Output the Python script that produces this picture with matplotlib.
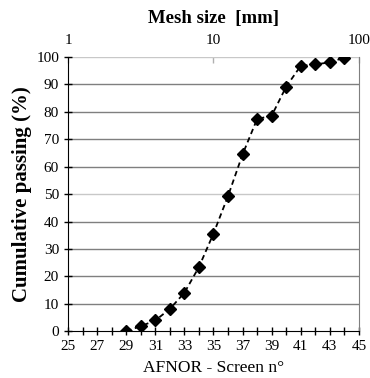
import matplotlib
matplotlib.use("Agg")
import matplotlib.pyplot as plt
import numpy as np

plt.rcParams['font.family'] = ['Liberation Serif', 'DejaVu Serif']

# AFNOR screen number and cumulative passing (%)
screen = [29, 30, 31, 32, 33, 34, 35, 36, 37, 38, 39, 40, 41, 42, 43, 44]
passing = [0, 1.8, 3.9, 8.1, 14, 23.4, 35.6, 49.3, 64.5, 77.4, 78.6, 89.2, 96.8, 97.3, 98.1, 99.8]

x_ticks = list(range(25, 46, 2))
y_ticks = list(range(0, 101, 10))
mesh_ticks = [1, 10, 100]

fig = plt.figure(figsize=(3.7, 3.78), dpi=100)
ax = fig.add_axes([0.184, 0.124, 0.786, 0.725])

# horizontal grid lines
for y in y_ticks[1:]:
    col = '#c8c8c8' if y in (50, 100) else '#7f7f7f'
    ax.axhline(y, color=col, lw=1.0, zorder=1)

ax.plot(screen, passing, color='black', ls='--', lw=1.3, dashes=(3, 2),
        marker='D', markersize=6, zorder=3)

ax.set_xlim(25, 45)
ax.set_ylim(0, 100)
ax.set_xticks(x_ticks)
ax.set_xticks(range(25, 46), minor=True)
ax.set_yticks(y_ticks)
ax.tick_params(axis='both', direction='inout', length=6, width=1, labelsize=11)
ax.tick_params(axis='x', which='minor', direction='inout', length=6, width=1)
ax.spines['top'].set_visible(False)
ax.spines['right'].set_color('#7f7f7f')

ax.set_xlabel('AFNOR - Screen n°', fontsize=12.5, labelpad=5)
ax.set_ylabel('Cumulative passing (%)', fontsize=15, fontweight='bold', labelpad=3)

# top axis: mesh size in mm (log scale), 1 mm at screen 25, 100 mm at 45
top = ax.secondary_xaxis('top', functions=(lambda n: 10 ** ((np.asarray(n) - 25) / 10.0),
                                           lambda d: 25 + 10 * np.log10(np.asarray(d))))
top.set_xticks(mesh_ticks)
top.set_xticklabels([str(m) for m in mesh_ticks])
top.xaxis.set_minor_locator(matplotlib.ticker.NullLocator())
top.tick_params(direction='in', length=4, width=1, color='#b0b0b0', labelsize=11, pad=7)
top.spines['top'].set_visible(False)
top.set_xlabel('Mesh size  [mm]', fontsize=13.5, fontweight='bold', labelpad=8)

fig.savefig('out.png', dpi=100)
